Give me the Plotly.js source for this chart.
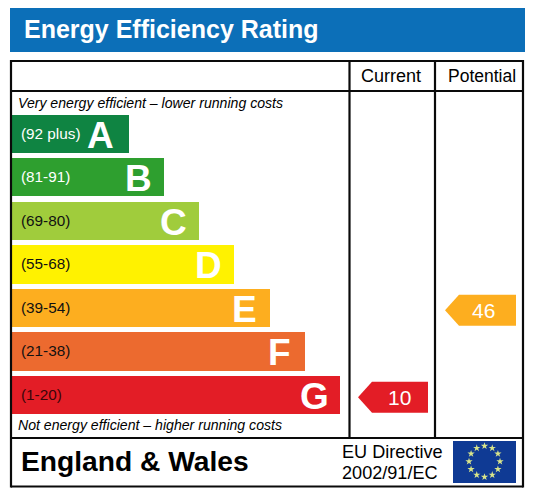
<!DOCTYPE html>
<html><head><meta charset="utf-8">
<script src="https://cdn.plot.ly/plotly-3.0.1.min.js"></script>
<style>html,body{margin:0;padding:0;background:#fff}</style></head>
<body><div id="c" style="width:536px;height:502px"></div>
<script>
const bandLetters = ['A','B','C','D','E','F','G'];
const bandRanges = ['(92 plus)','(81-91)','(69-80)','(55-68)','(39-54)','(21-38)','(1-20)'];
const bandLower = [92,81,69,55,39,21,1];
const bandLengths = [117,152,187,222,258,293,328];
const bandColors = ['#0f8442','#2e9f2f','#a0cc3c','#fff200','#fdae1f','#ec6a2f','#e31d26'];
const rangeColors = ['#ffffff','#ffffff','#111111','#111111','#111111','#111111','#3a060a'];
const columns = ['Current','Potential'];
const ratings = [10,46];

const FONT = 'Liberation Sans, Arial, sans-serif';
const rowOf = v => bandLower.findIndex(l => v >= l);
const x0 = 12;
const traces = [{
  type:'bar', orientation:'h', y:bandLetters.map((_,i)=>i), x:bandLengths, base:x0, width:0.874,
  marker:{color:bandColors,line:{width:0}}, hoverinfo:'skip', showlegend:false
}];
// rating arrows
const arrowGeom = [{tip:358,neck:372,right:428,label:399.5},{tip:445,neck:459,right:516,label:483.5}];
const halfH = 15.5/43.5, off = 0.05;
const arrowAnn = [];
ratings.forEach((v,k)=>{
  const r = rowOf(v)+off, g = arrowGeom[k];
  traces.push({type:'scatter',mode:'lines',fill:'toself',fillcolor:bandColors[rowOf(v)],
    line:{width:0},hoverinfo:'skip',showlegend:false,
    x:[g.tip,g.neck,g.right,g.right,g.neck,g.tip],
    y:[r,r-halfH,r-halfH,r+halfH,r+halfH,r]});
  arrowAnn.push({x:g.label,y:r,text:String(v),xref:'x',yref:'y',showarrow:false,
    font:{family:FONT,size:21,color:'#fff'}});
});
// EU stars on a pixel-scaled overlay axis
const sx=[],sy=[];
for(let i=0;i<12;i++){const a=i*Math.PI/6;sx.push(484.5+15.5*Math.sin(a));sy.push(461.5-15.5*Math.cos(a));}
traces.push({type:'scatter',mode:'markers',x:sx,y:sy,yaxis:'y2',hoverinfo:'skip',showlegend:false,
  marker:{symbol:'star',size:5.5,color:'#d8e48a',line:{width:0}}});

const line = (x0,y0,x1,y1)=>({type:'line',xref:'paper',yref:'paper',x0:x0/536,x1:x1/536,y0:1-y0/502,y1:1-y1/502,line:{color:'#0a0a0a',width:2.2},layer:'above'});
const rect = (x0,y0,x1,y1,c)=>({type:'rect',xref:'paper',yref:'paper',x0:x0/536,x1:x1/536,y0:1-y0/502,y1:1-y1/502,fillcolor:c,line:{width:0},layer:'below'});
const shapes = [
  rect(10,8,525,52,'#0c6fb8'),
  line(11,61,523,61),line(11,91,523,91),line(11,438,523,438),line(11,486.5,523,486.5),
  line(11,60,11,487.5),line(523,60,523,487.5),
  line(349.5,61,349.5,438),line(435,61,435,438),
  rect(453,441,516,483,'#0f3a94')
];
const txt=(x,y,t,size,opt={})=>Object.assign({xref:'paper',yref:'paper',x:x/536,y:1-y/502,text:t,showarrow:false,xanchor:'left',yanchor:'middle',
  font:{family:FONT,size:size,color:opt.color||'#000'}},opt.extra||{});
const annotations = [
  txt(21.5,29,'<b>Energy Efficiency Rating</b>',25,{color:'#fff'}),
  txt(391,76,columns[0],18,{extra:{xanchor:'center'}}),
  txt(482,76,columns[1],17.5,{extra:{xanchor:'center'}}),
  txt(16,103,'<i>Very energy efficient – lower running costs</i>',14.1),
  txt(16,425,'<i>Not energy efficient – higher running costs</i>',14.1),
  txt(18.5,461,'<b>England &amp; Wales</b>',28.2),
  txt(340,452,'EU Directive',18.1),
  txt(340,473,'2002/91/EC',18.1),
  ...arrowAnn
];
bandLetters.forEach((L,i)=>{
  annotations.push({xref:'x',yref:'y',x:19,y:i-0.02,text:bandRanges[i],showarrow:false,xanchor:'left',
    font:{family:FONT,size:15.3,color:rangeColors[i]}});
  annotations.push({xref:'x',yref:'y',x:x0+bandLengths[i]-(i===0?28.5:25.5),y:i+0.03,text:'<b>'+L+'</b>',showarrow:false,xanchor:'center',
    font:{family:FONT,size:37,color:'#fff'}});
});
const hidden={showgrid:false,zeroline:false,showticklabels:false,ticks:'',showline:false,fixedrange:true};
Plotly.newPlot('c',traces,{
  width:536,height:502,margin:{l:0,r:0,t:0,b:0},paper_bgcolor:'#fff',plot_bgcolor:'rgba(0,0,0,0)',
  showlegend:false,bargap:0,
  xaxis:Object.assign({range:[0,536]},hidden),
  yaxis:Object.assign({range:[8.46,-3.08]},hidden),
  yaxis2:Object.assign({range:[502,0],overlaying:'y'},hidden),
  shapes,annotations
},{displayModeBar:false,staticPlot:true});
</script></body></html>
